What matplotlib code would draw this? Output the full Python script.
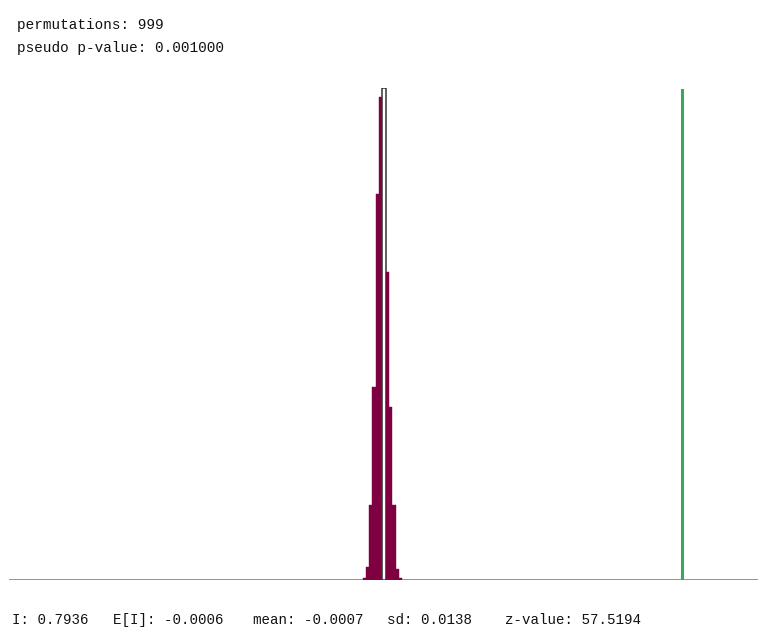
import numpy as np
import matplotlib
matplotlib.use("Agg")
import matplotlib.pyplot as plt

# permutation histogram (Moran's I reference distribution)
bin_left = [-0.0596, -0.0507, -0.0418, -0.0329, -0.0240, -0.0151, -0.0062,
            0.0027, 0.0116, 0.0205, 0.0294, 0.0383]
bin_width = 0.0089
counts = [1, 6, 34, 87, 174, 218, 222, 139, 78, 34, 5, 1]
highlight_bin = 6          # bin drawn hollow
observed_I = 0.7936

top_lines = ["permutations: 999", "pseudo p-value: 0.001000"]
bottom_items = [("I: 0.7936", 12), ("E[I]: -0.0006", 113), ("mean: -0.0007", 253),
                ("sd: 0.0138", 387), ("z-value: 57.5194", 505)]

W, H = 766, 639
fig = plt.figure(figsize=(W / 100, H / 100), dpi=100)
fig.patch.set_facecolor("white")
ax = fig.add_axes([9 / W, (H - 580) / H, (758 - 9) / W, (580 - 88) / H])

maroon = "#7f0040"
n = len(counts)
cols = ["white" if i == highlight_bin else maroon for i in range(n)]
edges = ["#333333" if i == highlight_bin else maroon for i in range(n)]
lws = [1.1 if i == highlight_bin else 0.3 for i in range(n)]
ax.bar(bin_left, counts, width=bin_width, align="edge", color=cols,
       edgecolor=edges, linewidth=lws, zorder=2)
ax.axhline(0, color="#b5507f", lw=1.8, zorder=1)
ax.axvline(observed_I, ymin=0, ymax=(580 - 90) / (580 - 88), color="#3aa85a", lw=2.2, zorder=3)

ax.set_xlim(-1.004, 0.997)
ax.set_ylim(0, max(counts))
ax.axis("off")

mono = "Liberation Mono"
for i, s in enumerate(top_lines):
    fig.text(17 / W, 1 - (25 + 23 * i) / H, s, family=mono, fontsize=10.4,
             va="center", ha="left", color="#111111")
for s, x in bottom_items:
    fig.text(x / W, 1 - 620 / H, s, family=mono, fontsize=10.2,
             va="center", ha="left", color="#111111")

fig.savefig("out.png", dpi=100)
